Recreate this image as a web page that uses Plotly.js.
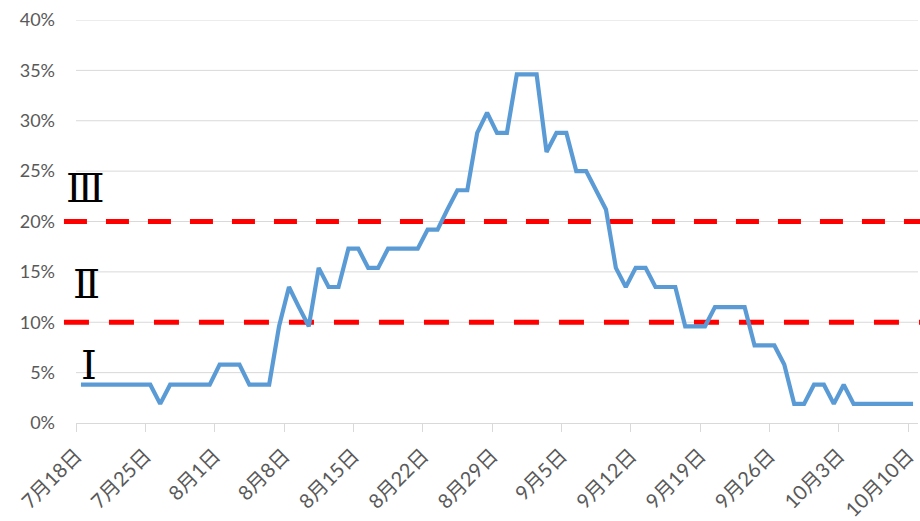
<!DOCTYPE html>
<html>
<head>
<meta charset="utf-8">
<script src="https://cdn.plot.ly/plotly-3.0.1.min.js"></script>
<style>
  html, body { margin: 0; padding: 0; background: #fff; }
  #chart { width: 920px; height: 521px; }
</style>
</head>
<body>
<div id="chart"></div>
<script>
// 每日占比曲线 + 两条分级虚线 (10% / 20%)

const startDate = "2020-07-18";
const dayCount = 85;

// 日期标签 7月18日 ... 10月10日
const dayLabels = [];
for (let i = 0; i < dayCount; i++) {
    const d = new Date(startDate + "T00:00:00Z");
    d.setUTCDate(d.getUTCDate() + i);
    dayLabels.push((d.getUTCMonth() + 1) + "月" + d.getUTCDate() + "日");
}

const tickLabels = ["7月18日", "7月25日", "8月1日", "8月8日", "8月15日", "8月22日", "8月29日",
    "9月5日", "9月12日", "9月19日", "9月26日", "10月3日", "10月10日"];

// 每日数值 (%)
const rate = [
    3.8, 3.8, 3.8, 3.8, 3.8, 3.8, 3.8, 3.8, 1.9, 3.8,
    3.8, 3.8, 3.8, 3.8, 5.8, 5.8, 5.8, 3.8, 3.8, 3.8,
    9.6, 13.5, 11.5, 9.6, 15.4, 13.5, 13.5, 17.3, 17.3, 15.4,
    15.4, 17.3, 17.3, 17.3, 17.3, 19.2, 19.2, 21.2, 23.1, 23.1,
    28.8, 30.8, 28.8, 28.8, 34.6, 34.6, 34.6, 26.9, 28.8, 28.8,
    25.0, 25.0, 23.1, 21.2, 15.4, 13.5, 15.4, 15.4, 13.5, 13.5,
    13.5, 9.6, 9.6, 9.6, 11.5, 11.5, 11.5, 11.5, 7.7, 7.7,
    7.7, 5.8, 1.9, 1.9, 3.8, 3.8, 1.9, 3.8, 1.9, 1.9,
    1.9, 1.9, 1.9, 1.9, 1.9
];

const yTicks = [0, 5, 10, 15, 20, 25, 30, 35, 40];
const thresholds = [10, 20];
const levelNames = ["Ⅰ", "Ⅱ", "Ⅲ"];
const levelY = [5.8, 13.8, 23.3];

const C = {
    line: "#5B9BD5",
    red: "#FF0000",
    grid: "#D9D9D9",
    text: "#595959"
};

const dayIndex = dayLabels.map((_, i) => i);

const traces = [
    {
        x: dayIndex,
        y: rate,
        type: "scatter",
        mode: "lines",
        line: { color: C.line, width: 4.2 },
        text: dayLabels,
        hovertemplate: "%{text}<br>%{y}%<extra></extra>",
        showlegend: false
    }
];

// 网格线画成底层 shape, 这样红色虚线能压在网格线上、又在折线下面
const gridShapes = yTicks.slice(1).map((v) => ({
    type: "line",
    xref: "paper", yref: "y",
    x0: 0, x1: 1, y0: v, y1: v,
    layer: "below",
    line: { color: C.grid, width: 1 }
}));

const dashes = ["25px,20px", "23px,19px"];

const redShapes = thresholds.map((t, i) => ({
    type: "line",
    xref: "paper", yref: "y",
    x0: -0.0143, x1: 1.003,
    y0: t, y1: t,
    layer: "below",
    line: { color: C.red, width: 5, dash: dashes[i] }
}));

const annoX = [0.0152, 0.0122, 0.0113];
const annotations = levelNames.map((name, i) => ({
    xref: "paper", yref: "y",
    x: annoX[i], y: levelY[i],
    xanchor: "center", yanchor: "middle",
    text: name,
    showarrow: false,
    font: { family: "DejaVu Serif, Liberation Serif, serif", size: 40, color: "#000" }
}));

const layout = {
    width: 920,
    height: 521,
    paper_bgcolor: "#fff",
    plot_bgcolor: "#fff",
    margin: { l: 76, r: 2, t: 20, b: 98 },
    font: { family: "Lato, Noto Sans CJK SC, sans-serif", size: 18, color: C.text },
    xaxis: {
        type: "linear",
        range: [-0.5, dayCount - 0.5],
        tickmode: "array",
        tickvals: tickLabels.map((t) => dayLabels.indexOf(t) - 0.5),
        ticktext: tickLabels,
        tickangle: -45,
        ticks: "outside",
        ticklen: 8,
        tickcolor: C.grid,
        ticklabelstandoff: 4,
        showline: true,
        linecolor: C.grid,
        linewidth: 1,
        showgrid: false,
        zeroline: false,
        tickfont: { size: 20, color: C.text }
    },
    yaxis: {
        range: [0, 40],
        tickmode: "array",
        tickvals: yTicks,
        ticktext: yTicks.map((v) => v + "%"),
        showgrid: false,
        zeroline: false,
        showline: false,
        ticks: "",
        ticklabelstandoff: 20,
        tickfont: { size: 18, color: C.text }
    },
    shapes: gridShapes.concat(redShapes),
    annotations: annotations
};

Plotly.newPlot("chart", traces, layout, { displayModeBar: false, responsive: false });
</script>
</body>
</html>
